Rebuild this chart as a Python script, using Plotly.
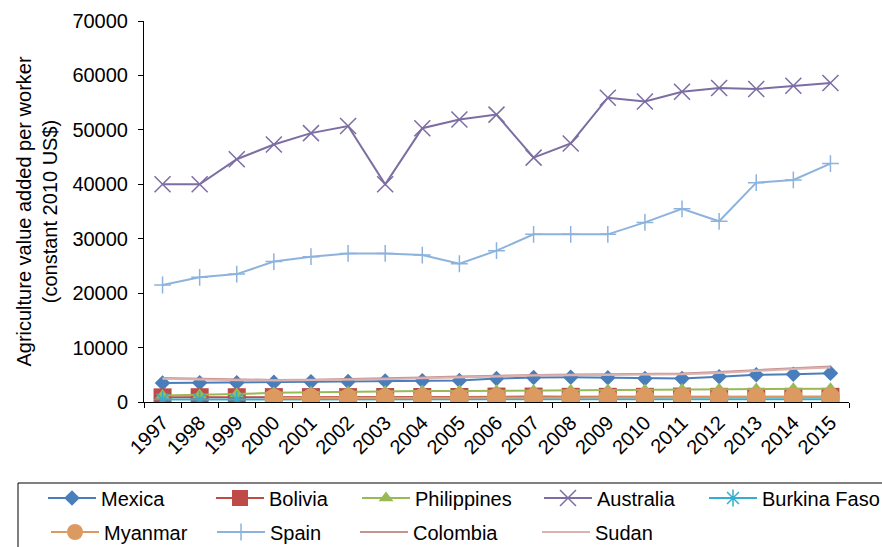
import plotly.graph_objects as go

# Agriculture value added per worker (constant 2010 US$), 1997-2015
years = [str(y) for y in range(1997, 2016)]

mexica = [3500, 3550, 3550, 3600, 3700, 3750, 3850, 3900, 3950, 4300,
          4500, 4550, 4450, 4300, 4300, 4650, 5000, 5100, 5300]
bolivia = [850, 880, 880, 900, 900, 900, 920, 920, 920, 1000,
           1000, 950, 950, 950, 1000, 950, 950, 950, 950]
philippines = [1200, 1300, 1450, 1700, 1800, 1850, 1950, 2000, 2000, 2050,
               2100, 2150, 2200, 2200, 2300, 2350, 2400, 2450, 2450]
australia = [40000, 40000, 44600, 47300, 49400, 50700, 40000, 50300, 51900, 52800,
             44900, 47500, 55900, 55200, 57000, 57700, 57500, 58100, 58600]
burkina_faso = [450, 450, 460, 460, 470, 470, 480, 480, 480, 490,
                490, 490, 500, 500, 500, 500, 510, 510, 520]
myanmar = [None, None, None, 750, 760, 780, 800, 820, 840, 860,
           880, 890, 900, 900, 910, 920, 930, 930, 950]
spain = [21500, 22900, 23500, 25800, 26700, 27300, 27300, 27000, 25400, 27800,
         30800, 30800, 30800, 33000, 35500, 33200, 40300, 40800, 43800]
colombia = [4400, 4250, 4150, 4050, 4100, 4200, 4350, 4500, 4700, 4850,
            5000, 5050, 5100, 5200, 5250, 5500, 5900, 6200, 6500]
sudan = [4250, 4100, 4000, 3950, 4000, 4100, 4200, 4350, 4550, 4700,
         4850, 4900, 4950, 5050, 5100, 5350, 5750, 6050, 6350]

y_ticks = [0, 10000, 20000, 30000, 40000, 50000, 60000, 70000]

# Plot area in pixels
W, H = 882, 547
L, R, T, B = 144, 33, 21, 145
PW, PH = W - L - R, H - T - B


def px_x(px):
    return (px - L) / PW


def px_y(py):
    return (H - B - py) / PH


FONT = "Liberation Sans, Arial, sans-serif"

series = [
    # name, values, colour, marker symbol, marker size, legend slot (text x, row y)
    ("Mexica", mexica, "#4a7ebb", "diamond", 12, (101, 498)),
    ("Bolivia", bolivia, "#be4b48", "square", 18, (269, 498)),
    ("Philippines", philippines, "#98b954", "triangle-up", 13, (415, 498)),
    ("Australia", australia, "#7c6da3", "x-thin", 16, (597, 498)),
    ("Burkina Faso", burkina_faso, "#34aed0", "asterisk-open", 14, (762, 498)),
    ("Myanmar", myanmar, "#dc9a60", "circle", 19, (104, 532)),
    ("Spain", spain, "#8db3dd", "cross-thin", 12, (270, 532)),
    ("Colombia", colombia, "#c69390", None, 0, (413, 532)),
    ("Sudan", sudan, "#dab3b1", None, 0, (595, 532)),
]

fig = go.Figure()
layout_legends = {}
ITEMW = 48
for i, (name, vals, col, sym, size, (tx, ty)) in enumerate(series):
    leg_id = "legend" if i == 0 else f"legend{i + 1}"
    if sym is None:
        mode = "lines"
        marker = None
    else:
        mode = "lines+markers"
        thin = sym in ("x-thin", "cross-thin", "asterisk-open")
        marker = dict(symbol=sym, size=size, color=col,
                      line=dict(color=col, width=1.5 if thin else 0))
    fig.add_trace(go.Scatter(
        x=years, y=vals, name=name, mode=mode,
        line=dict(color=col, width=2),
        marker=marker, legend=leg_id, connectgaps=False,
    ))
    layout_legends[leg_id] = dict(
        x=px_x(tx - ITEMW - 10), y=px_y(ty),
        xanchor="left", yanchor="middle",
        bgcolor="rgba(0,0,0,0)", borderwidth=0,
        itemwidth=ITEMW,
        font=dict(family=FONT, size=20, color="#000000"),
    )

fig.update_layout(
    width=W, height=H,
    margin=dict(l=L, r=R, t=T, b=B, pad=0, autoexpand=False),
    paper_bgcolor="white", plot_bgcolor="white",
    font=dict(family=FONT, size=20, color="#000000"),
    showlegend=True,
    **layout_legends,
)

fig.update_xaxes(
    type="category", categoryorder="array", categoryarray=years,
    range=[-0.5, len(years) - 0.5],
    tickson="boundaries", ticks="outside", ticklen=5, tickcolor="black",
    tickangle=-45, tickfont=dict(family=FONT, size=20, color="black"),
    showline=True, linecolor="black", linewidth=1,
    showgrid=False, zeroline=False, mirror=False,
)
fig.update_yaxes(
    range=[0, 70000], tickvals=y_ticks, ticktext=[str(v) for v in y_ticks],
    ticks="outside", ticklen=5, tickcolor="black",
    tickfont=dict(family=FONT, size=20, color="black"),
    ticklabelstandoff=6,
    showline=True, linecolor="black", linewidth=1,
    showgrid=False, zeroline=False,
    title=dict(text="Agriculture value added per worker<br>(constant 2010 US$)",
               font=dict(family=FONT, size=20, color="black"), standoff=9),
)

# Legend frame
fig.add_shape(type="rect", xref="paper", yref="paper",
              x0=px_x(18), x1=px_x(900), y0=px_y(570), y1=px_y(483),
              line=dict(color="black", width=1), fillcolor="rgba(0,0,0,0)",
              layer="above")

fig.write_html("out.html")
